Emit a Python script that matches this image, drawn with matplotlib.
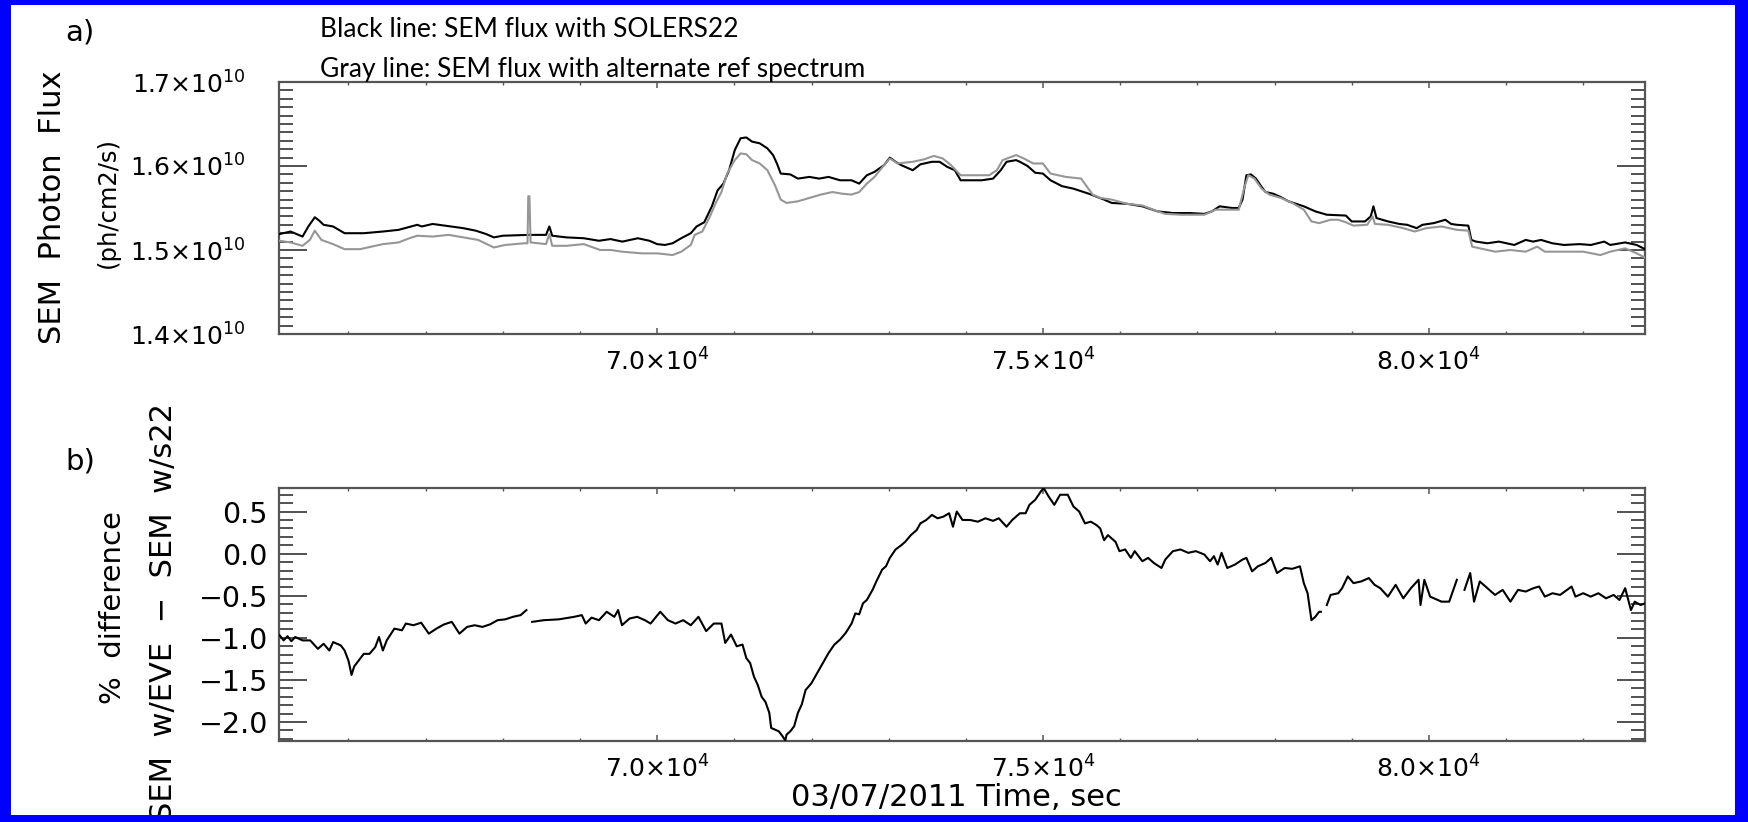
import numpy as np
import matplotlib
matplotlib.use("Agg")
import matplotlib.pyplot as plt
from matplotlib.ticker import MultipleLocator, FixedLocator, FuncFormatter
from matplotlib.patches import Rectangle

# ---------------- data ----------------
black_t = [65108, 65250, 65405, 65480, 65564, 65620, 65678, 65800, 65950, 66200, 66446, 66650,
           66892, 66950, 67091, 67250, 67487, 67650, 67784, 67884, 68000, 68330, 68560, 68603,
           68640, 68826, 69050, 69246, 69395, 69550, 69750, 69900, 70000, 70100, 70200, 70312,
           70436, 70511, 70610, 70709, 70783, 70858, 70932, 71006, 71081, 71155, 71230, 71329,
           71428, 71502, 71552, 71601, 71725, 71824, 71973, 72100, 72221, 72370, 72519, 72618,
           72717, 72816, 72940, 73015, 73089, 73163, 73312, 73411, 73560, 73660, 73758, 73857,
           73932, 74056, 74204, 74353, 74452, 74527, 74651, 74700, 74799, 74898, 74998, 75097,
           75246, 75394, 75593, 75791, 75890, 76088, 76287, 76485, 76683, 76900, 77090, 77189,
           77288, 77450, 77536, 77585, 77635, 77694, 77759, 77833, 77883, 77982, 78081, 78180,
           78280, 78379, 78528, 78676, 78924, 78999, 79172, 79246, 79281, 79321, 79470, 79618,
           79718, 79841, 79916, 80064, 80213, 80288, 80362, 80511, 80550, 80610, 80759, 80907,
           81106, 81254, 81350, 81453, 81600, 81750, 81950, 82100, 82271, 82350, 82543, 82692,
           82800]
black_flux = [1.519, 1.522, 1.516, 1.528, 1.539, 1.535, 1.530, 1.528, 1.520, 1.520, 1.522, 1.524,
              1.530, 1.528, 1.531, 1.529, 1.526, 1.523, 1.519, 1.515, 1.517, 1.518, 1.518, 1.528,
              1.517, 1.515, 1.514, 1.511, 1.513, 1.510, 1.514, 1.511, 1.507, 1.506, 1.508, 1.514,
              1.520, 1.528, 1.533, 1.552, 1.571, 1.579, 1.595, 1.619, 1.633, 1.634, 1.629, 1.627,
              1.621, 1.613, 1.603, 1.591, 1.590, 1.585, 1.587, 1.585, 1.587, 1.583, 1.583, 1.579,
              1.589, 1.593, 1.601, 1.610, 1.605, 1.601, 1.595, 1.602, 1.605, 1.605, 1.599, 1.595,
              1.583, 1.583, 1.583, 1.585, 1.595, 1.605, 1.607, 1.605, 1.600, 1.592, 1.591, 1.583,
              1.576, 1.573, 1.567, 1.560, 1.556, 1.555, 1.552, 1.546, 1.544, 1.544, 1.543, 1.546,
              1.552, 1.550, 1.550, 1.560, 1.589, 1.590, 1.585, 1.575, 1.569, 1.567, 1.563, 1.558,
              1.555, 1.552, 1.546, 1.542, 1.541, 1.534, 1.534, 1.540, 1.552, 1.538, 1.534, 1.531,
              1.530, 1.526, 1.530, 1.532, 1.536, 1.531, 1.530, 1.529, 1.512, 1.510, 1.508, 1.510,
              1.506, 1.512, 1.510, 1.512, 1.508, 1.506, 1.507, 1.506, 1.510, 1.506, 1.509, 1.506,
              1.501]

gray_t = [65108, 65250, 65405, 65500, 65564, 65650, 65800, 65950, 66150, 66250, 66446, 66650,
          66790, 66892, 67091, 67300, 67487, 67680, 67884, 68030, 68280, 68320, 68330, 68345,
          68360, 68560, 68603, 68640, 68826, 69050, 69262, 69400, 69544, 69800, 70000, 70200,
          70312, 70436, 70486, 70585, 70684, 70759, 70833, 70907, 71006, 71081, 71155, 71230,
          71329, 71428, 71527, 71601, 71676, 71824, 71973, 72122, 72271, 72400, 72519, 72618,
          72717, 72816, 72940, 73015, 73114, 73312, 73461, 73585, 73700, 73808, 73932, 74080,
          74303, 74402, 74477, 74651, 74750, 74874, 74998, 75097, 75295, 75494, 75642, 75741,
          75890, 76088, 76287, 76485, 76584, 76800, 77090, 77238, 77536, 77610, 77660, 77740,
          77833, 77932, 78081, 78230, 78379, 78478, 78578, 78726, 78825, 78924, 79023, 79200,
          79271, 79300, 79470, 79668, 79817, 79965, 80164, 80362, 80511, 80560, 80709, 80858,
          81056, 81254, 81403, 81502, 81750, 82000, 82221, 82350, 82543, 82692, 82800]
gray_flux = [1.511, 1.509, 1.505, 1.512, 1.523, 1.512, 1.507, 1.501, 1.501, 1.503, 1.507, 1.509,
             1.514, 1.517, 1.516, 1.518, 1.515, 1.512, 1.503, 1.506, 1.508, 1.508, 1.564, 1.564,
             1.509, 1.507, 1.519, 1.505, 1.505, 1.507, 1.500, 1.500, 1.498, 1.496, 1.496, 1.494,
             1.498, 1.506, 1.518, 1.522, 1.540, 1.556, 1.569, 1.591, 1.607, 1.615, 1.614, 1.607,
             1.603, 1.595, 1.577, 1.560, 1.556, 1.558, 1.562, 1.566, 1.569, 1.567, 1.566, 1.569,
             1.579, 1.587, 1.601, 1.609, 1.603, 1.605, 1.608, 1.612, 1.609, 1.601, 1.589, 1.589,
             1.589, 1.595, 1.607, 1.613, 1.609, 1.603, 1.603, 1.591, 1.587, 1.585, 1.566, 1.562,
             1.560, 1.555, 1.553, 1.546, 1.543, 1.542, 1.542, 1.548, 1.548, 1.575, 1.589, 1.585,
             1.573, 1.566, 1.562, 1.556, 1.548, 1.534, 1.532, 1.536, 1.536, 1.533, 1.529, 1.530,
             1.540, 1.531, 1.530, 1.526, 1.522, 1.526, 1.528, 1.524, 1.523, 1.504, 1.501, 1.498,
             1.500, 1.498, 1.504, 1.498, 1.498, 1.498, 1.494, 1.498, 1.502, 1.496, 1.491]

diff_t = [65108, 65160, 65210, 65260, 65310, 65405, 65504, 65604, 65678, 65752, 65802, 65901,
          65950, 66000, 66040, 66074, 66124, 66198, 66272, 66347, 66396, 66446, 66496, 66595,
          66694, 66743, 66842, 66942, 67041, 67140, 67239, 67339, 67438, 67537, 67636, 67735,
          67834, 67933, 68032, 68132, 68231, 68306, 68340, 68380, 68530, 68727, 68925, 69024,
          69074, 69150, 69246, 69346, 69445, 69494, 69544, 69643, 69742, 69841, 69915, 70040,
          70139, 70238, 70337, 70436, 70535, 70635, 70734, 70833, 70882, 70957, 71031, 71106,
          71155, 71205, 71254, 71304, 71354, 71403, 71453, 71477, 71527, 71576, 71626, 71660,
          71676, 71725, 71775, 71824, 71874, 71923, 71998, 72072, 72146, 72221, 72296, 72370,
          72444, 72519, 72568, 72618, 72667, 72717, 72791, 72840, 72915, 72965, 73015, 73089,
          73163, 73213, 73287, 73362, 73411, 73486, 73560, 73634, 73709, 73783, 73833, 73882,
          73957, 74056, 74155, 74254, 74353, 74427, 74527, 74601, 74700, 74774, 74824, 74899,
          74973, 75008, 75072, 75146, 75221, 75320, 75394, 75469, 75543, 75618, 75692, 75741,
          75791, 75841, 75940, 75990, 76064, 76138, 76188, 76287, 76361, 76435, 76535, 76584,
          76683, 76782, 76881, 76980, 77090, 77164, 77214, 77263, 77313, 77387, 77486, 77585,
          77635, 77709, 77784, 77883, 77957, 78032, 78131, 78230, 78329, 78379, 78428, 78478,
          78528, 78577, 78600, 78640, 78677, 78726, 78825, 78875, 78949, 79023, 79122, 79221,
          79296, 79370, 79469, 79569, 79668, 79767, 79866, 79891, 79941, 80015, 80164, 80263,
          80362, 80400, 80461, 80535, 80585, 80659, 80758, 80857, 80956, 81056, 81155, 81254,
          81354, 81428, 81502, 81601, 81700, 81849, 81899, 81998, 82097, 82196, 82295, 82394,
          82469, 82543, 82618, 82667, 82742, 82800]
diff_pct = [-0.97, -1.03, -0.98, -1.04, -0.99, -1.03, -1.03, -1.13, -1.07, -1.15, -1.05, -1.09,
            -1.15, -1.27, -1.44, -1.34, -1.28, -1.19, -1.19, -1.11, -0.99, -1.15, -1.03, -0.89,
            -0.91, -0.83, -0.85, -0.82, -0.95, -0.89, -0.84, -0.81, -0.95, -0.87, -0.85, -0.87,
            -0.84, -0.79, -0.78, -0.75, -0.73, -0.67, np.nan, -0.81, -0.79, -0.78, -0.75, -0.73,
            -0.83, -0.76, -0.79, -0.69, -0.75, -0.67, -0.85, -0.77, -0.75, -0.79, -0.83, -0.69,
            -0.79, -0.83, -0.79, -0.85, -0.75, -0.92, -0.83, -0.83, -1.06, -0.96, -1.10, -1.08,
            -1.24, -1.30, -1.46, -1.56, -1.70, -1.76, -1.89, -2.07, -2.09, -2.11, -2.17, -2.22,
            -2.15, -2.11, -2.05, -1.89, -1.79, -1.62, -1.54, -1.42, -1.30, -1.18, -1.08, -1.02,
            -0.94, -0.83, -0.71, -0.72, -0.59, -0.55, -0.43, -0.33, -0.19, -0.15, -0.05, 0.05,
            0.10, 0.14, 0.22, 0.28, 0.36, 0.40, 0.46, 0.42, 0.44, 0.48, 0.32, 0.50,
            0.40, 0.40, 0.38, 0.42, 0.39, 0.42, 0.32, 0.40, 0.48, 0.48, 0.58, 0.64,
            0.74, 0.78, 0.68, 0.58, 0.70, 0.70, 0.56, 0.50, 0.36, 0.38, 0.34, 0.30,
            0.16, 0.22, 0.14, 0.03, 0.05, -0.05, 0.03, -0.09, -0.05, -0.11, -0.17, -0.07,
            0.03, 0.05, 0.01, 0.03, -0.01, -0.09, -0.03, -0.13, 0.01, -0.17, -0.13, -0.07,
            -0.05, -0.21, -0.15, -0.11, -0.05, -0.23, -0.17, -0.18, -0.15, -0.35, -0.47, -0.79,
            -0.75, -0.69, -0.69, np.nan, -0.61, -0.49, -0.47, -0.41, -0.27, -0.35, -0.33, -0.29,
            -0.37, -0.41, -0.51, -0.37, -0.53, -0.41, -0.31, -0.61, -0.31, -0.51, -0.57, -0.57,
            -0.31, np.nan, -0.43, -0.23, -0.57, -0.33, -0.41, -0.49, -0.43, -0.57, -0.43, -0.45,
            -0.41, -0.39, -0.51, -0.47, -0.49, -0.39, -0.51, -0.47, -0.51, -0.47, -0.53, -0.49,
            -0.55, -0.41, -0.67, -0.57, -0.61, -0.59]

x_major = [70000, 75000, 80000]
flux_major = [1.4, 1.5, 1.6, 1.7]          # units of 1e10
diff_major = [-2.0, -1.5, -1.0, -0.5, 0.0, 0.5]

# ---------------- figure ----------------
W, H = 1749, 822
fig = plt.figure(figsize=(W / 100, H / 100), dpi=100)
fig.patch.set_facecolor("white")
plt.rcParams["font.family"] = ["DejaVu Sans"]
plt.rcParams["mathtext.default"] = "regular"

axcol = "#555555"
tickfs = 18


def rect_px(x0, y0, w, h, color):
    fig.add_artist(Rectangle((x0 / W, 1 - (y0 + h) / H), w / W, h / H,
                             transform=fig.transFigure, color=color, lw=0, zorder=20))


blue = "#0000ff"
rect_px(0, 0, W, 5, blue)
rect_px(0, H - 7, W, 7, blue)
rect_px(0, 0, 11, H, blue)
rect_px(W - 14, 0, 14, H, blue)

ax1 = fig.add_axes([279 / W, 1 - 334 / H, 1366 / W, 252 / H])
ax2 = fig.add_axes([279 / W, 1 - 741 / H, 1366 / W, 253 / H])

xfmt = FuncFormatter(lambda v, p: r"$%.1f{\times}10^{4}$" % (v / 1e4))
ffmt = FuncFormatter(lambda v, p: r"$%.1f{\times}10^{10}$" % v)
dfmt = FuncFormatter(lambda v, p: ("%.1f" % v).replace("-", "\u2212"))

for ax in (ax1, ax2):
    ax.set_xlim(65100, 82800)
    for s in ax.spines.values():
        s.set_color(axcol)
        s.set_linewidth(1.6)
    ax.xaxis.set_major_locator(FixedLocator(x_major))
    ax.xaxis.set_minor_locator(MultipleLocator(1000))
    ax.xaxis.set_major_formatter(xfmt)
    ax.tick_params(axis="x", which="major", direction="in", length=4.5, width=1.1,
                   color=axcol, top=True, bottom=True, labelsize=tickfs, pad=10.5)
    ax.tick_params(axis="x", which="minor", direction="in", length=2.2, width=1.0,
                   color=axcol, top=True, bottom=True)
    ax.tick_params(axis="y", which="major", direction="in", length=20, width=1.1,
                   color="#222222", left=True, right=True)
    ax.tick_params(axis="y", which="minor", direction="in", length=10, width=1.1,
                   color="#222222", left=True, right=True)

ax1.plot(black_t, black_flux, color="black", lw=1.5, zorder=3)
ax1.plot(gray_t, gray_flux, color="#969696", lw=1.5, zorder=4)
ax1.set_ylim(1.4, 1.7)
ax1.yaxis.set_major_locator(FixedLocator(flux_major))
ax1.yaxis.set_minor_locator(MultipleLocator(0.01))
ax1.yaxis.set_major_formatter(ffmt)
ax1.tick_params(axis="y", which="major", pad=24, labelsize=tickfs)

ax2.plot(diff_t, diff_pct, color="black", lw=1.5, zorder=3)
ax2.set_ylim(-2.225, 0.78)
ax2.yaxis.set_major_locator(FixedLocator(diff_major))
ax2.yaxis.set_minor_locator(MultipleLocator(0.1))
ax2.yaxis.set_major_formatter(dfmt)
ax2.tick_params(axis="y", which="major", pad=8, labelsize=20.5)

# labels
def ftext(xpx, ypx, s, **kw):
    fig.text(xpx / W, 1 - ypx / H, s, **kw)

ftext(53, 207, "SEM  Photon  Flux", rotation=90, ha="center", va="center", fontsize=22)
ftext(108, 202, "(ph/cm2/s)", rotation=90, ha="center", va="center", fontsize=17.5)
ftext(113, 608, "%  difference", rotation=90, ha="center", va="center", fontsize=21)
ftext(164, 612, "SEM  w/EVE  \u2212  SEM  w/s22", rotation=90, ha="center", va="center",
      fontsize=22)
ftext(80, 33, "a)", ha="center", va="center", fontsize=21)
ftext(80, 461, "b)", ha="center", va="center", fontsize=21)
ftext(956, 797, "03/07/2011 Time, sec", ha="center", va="center", fontsize=22)

ftext(320, 37, "Black line: SEM flux with SOLERS22", ha="left", va="baseline",
      fontsize=19, family=["Lato", "DejaVu Sans"])
ftext(320, 77, "Gray line: SEM flux with alternate ref spectrum", ha="left", va="baseline",
      fontsize=19, family=["Lato", "DejaVu Sans"])

fig.savefig("out.png", dpi=100)
